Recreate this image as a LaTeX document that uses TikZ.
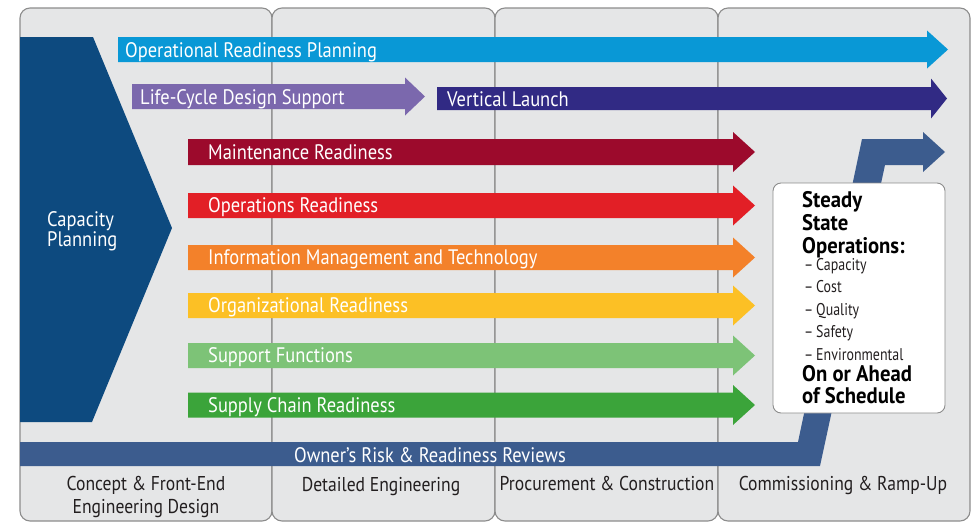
\documentclass[tikz,border=0pt]{standalone}
\usepackage{fontspec}
\setmainfont{PT Sans}[FakeStretch=0.88]
\newfontfamily\itemfont{PT Sans}[FakeStretch=0.82]
\newfontfamily\headfont{PT Sans}[FakeStretch=0.92]
\definecolor{panelgray}{HTML}{E5E6E7}
\definecolor{panelline}{HTML}{8C8C8C}
\definecolor{capblue}{HTML}{0D4A7F}
\definecolor{orpblue}{HTML}{0998D6}
\definecolor{lcpurple}{HTML}{7B68AD}
\definecolor{vlpurple}{HTML}{312A84}
\definecolor{maintred}{HTML}{9C0A2C}
\definecolor{opsred}{HTML}{E21F26}
\definecolor{infoorange}{HTML}{F3812A}
\definecolor{orgyellow}{HTML}{FCC025}
\definecolor{suplgreen}{HTML}{7DC377}
\definecolor{chaingreen}{HTML}{3BA43A}
\definecolor{ownerblue}{HTML}{3C5C8E}
\definecolor{darktext}{HTML}{231F20}
\newcommand\blockarrow[7]{% color, xstart, xheadstart, xtip, ycenter, bodyhalf, headhalf
  \fill[#1] (#2,{#5-#6}) -- (#3,{#5-#6}) -- (#3,{#5-#7}) -- (#4,#5) -- (#3,{#5+#7}) -- (#3,{#5+#6}) -- (#2,{#5+#6}) -- cycle;}
\begin{document}
\begin{tikzpicture}[x=1pt,y=-1pt,
  panel/.style={fill=panelgray, draw=panelline, line width=1.1pt, rounded corners=10pt},
  barlabel/.style={anchor=base west, text=white, font=\fontsize{21}{22}\selectfont, inner sep=0pt},
  phase/.style={anchor=base, text=darktext, font=\fontsize{20}{23}\selectfont, inner sep=0pt},
  boxhead/.style={anchor=base west, text=black, font=\fontsize{22.5}{23}\selectfont\headfont\bfseries, inner sep=0pt},
  boxitem/.style={anchor=base west, text=darktext, font=\fontsize{17}{17}\selectfont\itemfont, inner sep=0pt}]
\useasboundingbox (0,0) rectangle (977,523);
% panels
\draw[panel] (20,8) rectangle (272,521);
\draw[panel] (272,8) rectangle (495,521);
\draw[panel] (495,8) rectangle (718,521);
\draw[panel] (718,8) rectangle (970,521);
% capacity planning
\fill[capblue] (20,37) -- (93,37) -- (172,228) -- (92,422) -- (20,422) -- cycle;
\node[barlabel] (cap1) at (47,226) {Capacity};
\node[barlabel] (cap2) at (47,246) {Planning};
% arrows
\blockarrow{orpblue}{118}{927}{948}{49.5}{12.5}{19}
\blockarrow{lcpurple}{132}{405}{425}{96.5}{12.5}{19}
\blockarrow{vlpurple}{437}{931}{947}{98.5}{11.5}{20}
\blockarrow{maintred}{188}{733}{755}{152}{13}{20}
\blockarrow{opsred}{188}{733}{755}{205.5}{12.5}{20}
\blockarrow{infoorange}{188}{733}{755}{257.5}{12.5}{20}
\blockarrow{orgyellow}{188}{733}{755}{305.5}{12.5}{20}
\blockarrow{suplgreen}{188}{733}{755}{355.5}{12.5}{20}
\blockarrow{chaingreen}{188}{733}{755}{405}{12.5}{20}
\node[barlabel] (orp) at (125,57) {Operational Readiness Planning};
\node[barlabel] (lcds) at (140,104) {Life-Cycle Design Support};
\node[barlabel] (vl) at (447,106) {Vertical Launch};
\node[barlabel] (mr) at (208,159) {Maintenance Readiness};
\node[barlabel] (opr) at (208,212.5) {Operations Readiness};
\node[barlabel] (imt) at (208,264.5) {Information Management and Technology};
\node[barlabel] (orr) at (208,312.5) {Organizational Readiness};
\node[barlabel] (sf) at (208,362.5) {Support Functions};
\node[barlabel] (scr) at (208,412) {Supply Chain Readiness};
% owner's risk bar
\fill[ownerblue] (20,442) -- (798,442) -- (862,139) -- (923,139) -- (923,132) -- (945,152) -- (923,172) -- (923,165) -- (885,165) -- (820,466) -- (20,466) -- cycle;
\node[anchor=base, text=white, font=\fontsize{21}{22}\selectfont, inner sep=0pt] (orrr) at (430,462) {Owner’s Risk \& Readiness Reviews};
% steady state box
\draw[fill=white, draw=panelline, line width=0.9pt, rounded corners=8pt] (773,183) rectangle (945,413);
\node[boxhead] (ss1) at (802,207) {Steady};
\node[boxhead] (ss2) at (802,230) {State};
\node[boxhead] (ss3) at (802,253) {Operations:};
\node[boxitem] (i1) at (804,270) {–\,Capacity};
\node[boxitem] (i2) at (804,292.5) {–\,Cost};
\node[boxitem] (i3) at (804,315) {–\,Quality};
\node[boxitem] (i4) at (804,337.5) {–\,Safety};
\node[boxitem] (i5) at (804,360) {–\,Environmental};
\node[boxhead] (oa1) at (802,381.5) {On or Ahead};
\node[boxhead] (oa2) at (802,403) {of Schedule};
% phases
\node[phase] (p1a) at (146,490) {Concept \& Front-End};
\node[phase] (p1b) at (146,513) {Engineering Design};
\node[phase] (p2) at (381,491) {Detailed Engineering};
\node[phase] (p3) at (607,490) {Procurement \& Construction};
\node[phase] (p4) at (843,490) {Commissioning \& Ramp-Up};
\end{tikzpicture}
\end{document}
